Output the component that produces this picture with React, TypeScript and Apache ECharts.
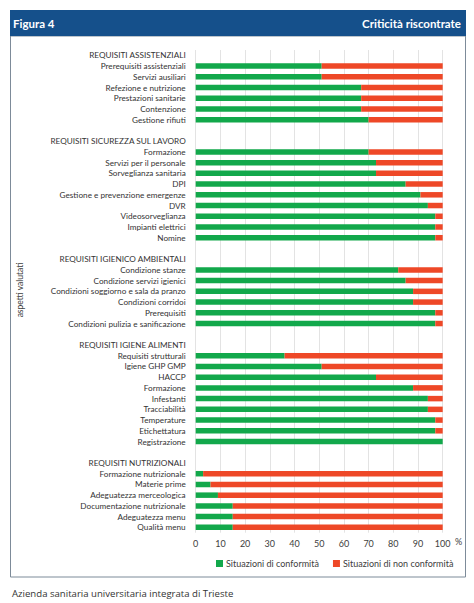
import React, { useEffect, useRef } from "react";
import * as echarts from "echarts";

const sectionTitles = [
  "REQUISITI ASSISTENZIALI",
  "REQUISITI SICUREZZA SUL LAVORO",
  "REQUISITI IGIENICO AMBIENTALI",
  "REQUISITI IGIENE ALIMENTI",
  "REQUISITI NUTRIZIONALI",
];

const assistenzialiItems = ["Prerequisiti assistenziali", "Servizi ausiliari", "Refezione e nutrizione", "Prestazioni sanitarie", "Contenzione", "Gestione rifiuti"];
const assistenzialiConf = [51, 51, 67, 67, 67, 70];

const sicurezzaItems = ["Formazione", "Servizi per il personale", "Sorveglianza sanitaria", "DPI", "Gestione e prevenzione emergenze", "DVR", "Videosorveglianza", "Impianti elettrici", "Nomine"];
const sicurezzaConf = [70, 73, 73, 85, 91, 94, 97, 97, 97];

const ambientaliItems = ["Condizione stanze", "Condizione servizi igienici", "Condizioni soggiorno e sala da pranzo", "Condizioni corridoi", "Prerequisiti", "Condizioni pulizia e sanificazione"];
const ambientaliConf = [82, 85, 88, 88, 97, 97];

const alimentiItems = ["Requisiti strutturali", "Igiene GHP GMP", "HACCP", "Formazione", "Infestanti", "Tracciabilità", "Temperature", "Etichettatura", "Registrazione"];
const alimentiConf = [36, 51, 73, 88, 94, 94, 97, 97, 100];

const nutrizionaliItems = ["Formazione nutrizionale", "Materie prime", "Adeguatezza merceologica", "Documentazione nutrizionale", "Adeguatezza menu", "Qualità menu"];
const nutrizionaliConf = [3, 6, 9, 15, 15, 15];

const xTicks = [0, 10, 20, 30, 40, 50, 60, 70, 80, 90, 100];
const seriesNames = ["Situazioni di conformità", "Situazioni di non conformità"];

const sectionItems = [assistenzialiItems, sicurezzaItems, ambientaliItems, alimentiItems, nutrizionaliItems];
const sectionConf = [assistenzialiConf, sicurezzaConf, ambientaliConf, alimentiConf, nutrizionaliConf];

const labels: string[] = [];
const conf: (number | null)[] = [];
const nonConf: (number | null)[] = [];
sectionTitles.forEach((t, si) => {
  if (si > 0) {
    labels.push("");
    conf.push(null);
    nonConf.push(null);
  }
  labels.push(t);
  conf.push(null);
  nonConf.push(null);
  sectionItems[si].forEach((it, i) => {
    labels.push(it);
    conf.push(sectionConf[si][i]);
    nonConf.push(100 - sectionConf[si][i]);
  });
});
const ids = labels.map((_, i) => "r" + i);

const GREEN = "#12a84b";
const RED = "#ee4827";
const FONT = "Lato, 'Liberation Sans', sans-serif";

export default function App() {
  const ref = useRef<HTMLDivElement>(null);
  useEffect(() => {
    document.body.style.margin = "0";
    const chart = echarts.init(ref.current!, null, { renderer: "svg" });
    chart.setOption({
      animation: false,
      backgroundColor: "#ffffff",
      textStyle: { fontFamily: FONT },
      grid: { left: 195.7, right: 31.3, top: 50, bottom: 70.3, containLabel: false },
      xAxis: {
        type: "value",
        min: xTicks[0],
        max: xTicks[xTicks.length - 1],
        interval: xTicks[1] - xTicks[0],
        axisLine: { show: false },
        axisTick: { show: false },
        splitLine: { show: true, lineStyle: { color: "#e3e3e3", width: 1 } },
        axisLabel: { fontSize: 9, color: "#404040", margin: 6, fontFamily: FONT },
      },
      yAxis: {
        type: "category",
        inverse: true,
        data: ids,
        axisLine: { show: false },
        axisTick: { show: false },
        splitLine: { show: false },
        axisLabel: {
          interval: 0,
          fontSize: 8.2,
          color: "#333333",
          margin: 10,
          fontFamily: FONT,
          formatter: (_v: string, idx: number) => labels[idx],
        },
      },
      legend: {
        left: 211,
        top: 554,
        itemWidth: 7,
        itemHeight: 7,
        itemGap: 14,
        icon: "rect",
        textStyle: { fontSize: 9, color: "#404040", fontFamily: FONT, padding: [0, 0, 0, -2] },
        data: seriesNames,
      },
      series: [
        {
          name: seriesNames[0],
          type: "bar",
          stack: "tot",
          barWidth: 5.5,
          itemStyle: { color: GREEN },
          data: conf,
        },
        {
          name: seriesNames[1],
          type: "bar",
          stack: "tot",
          barWidth: 5.5,
          itemStyle: { color: RED },
          data: nonConf,
        },
      ],
      graphic: [
        {
          type: "rect",
          shape: { x: 10.5, y: 36, width: 455, height: 541 },
          style: { fill: "none", stroke: "#7d8b99", lineWidth: 1 },
          silent: true,
        },
        {
          type: "rect",
          shape: { x: 10, y: 10, width: 456, height: 26 },
          style: { fill: "#15508b" },
          silent: true,
        },
        {
          type: "text",
          x: 13,
          y: 23,
          style: {
            text: "Figura 4",
            fill: "#ffffff",
            font: "bold 11.5px " + FONT,
            textAlign: "left",
            textVerticalAlign: "middle",
          },
        },
        {
          type: "text",
          x: 461,
          y: 23,
          style: {
            text: "Criticità riscontrate",
            fill: "#ffffff",
            font: "bold 11.5px " + FONT,
            textAlign: "right",
            textVerticalAlign: "middle",
          },
        },
        {
          type: "text",
          x: 20,
          y: 290,
          rotation: Math.PI / 2,
          style: {
            text: "aspetti valutati",
            fill: "#404040",
            font: "8.5px " + FONT,
            textAlign: "center",
            textVerticalAlign: "middle",
          },
        },
        {
          type: "text",
          x: 455,
          y: 541,
          style: {
            text: "%",
            fill: "#404040",
            font: "9px " + FONT,
            textAlign: "left",
            textVerticalAlign: "middle",
          },
        },
        {
          type: "text",
          x: 12,
          y: 593,
          style: {
            text: "Azienda sanitaria universitaria integrata di Trieste",
            fill: "#333333",
            font: "9.6px 'Open Sans', sans-serif",
            textAlign: "left",
            textVerticalAlign: "middle",
          },
        },
      ],
    });
    return () => chart.dispose();
  }, []);
  return (
    <div
      ref={ref}
      style={{ position: "absolute", left: 0, top: 0, width: 474, height: 603 }}
    />
  );
}
